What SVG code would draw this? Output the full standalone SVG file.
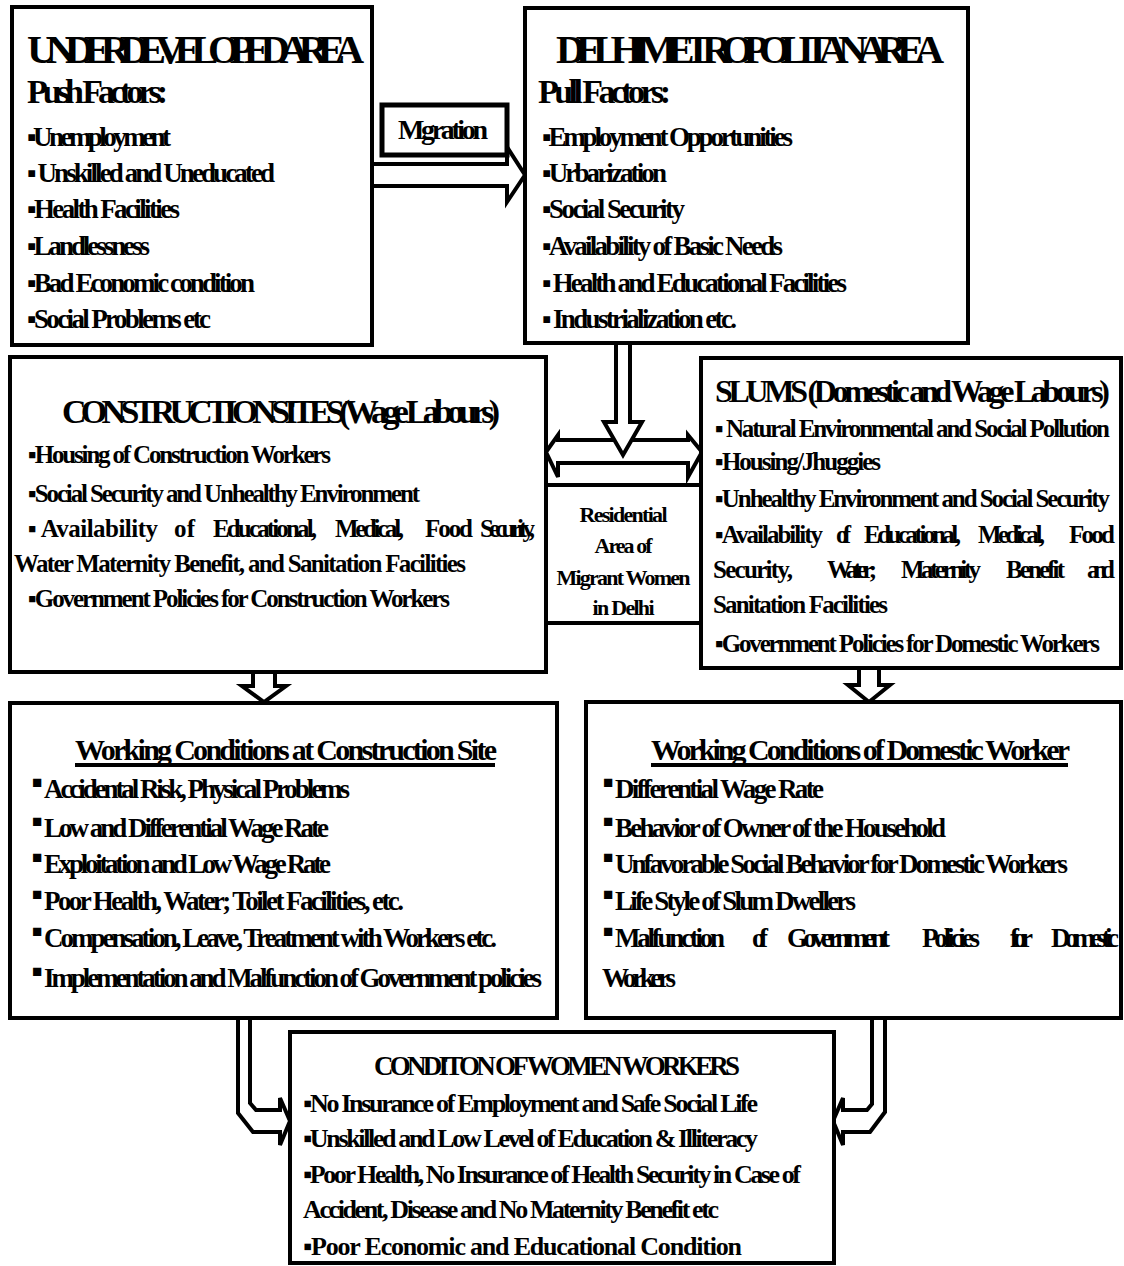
<svg xmlns="http://www.w3.org/2000/svg" width="1124" height="1266" viewBox="0 0 1124 1266">
<style>
.bx{fill:#fff;stroke:#000;stroke-width:4}
.ar{fill:#fff;stroke:#000;stroke-width:4;stroke-linejoin:miter}
text{font-family:"Liberation Serif","Times New Roman",serif;font-weight:bold;fill:#000}
.h1{font-size:41px}
.h2{font-size:34px}
.i1{font-size:27px}
.h3{font-size:34px}
.i2{font-size:25px}
.rs{font-size:22px}
.h4{font-size:30px}
.i3{font-size:27px}
.h5{font-size:27px}
.i4{font-size:26px}
.sb{font-size:17px}
</style>
<g id="connectors">
<polygon class="ar" points="372,164 507,164 507,147 525,175 507,202 507,186 372,186"/>
<polygon class="ar" points="546,452 558,435 558,440 688,440 688,435 702,452 688,477 688,463 558,463 558,477"/>
<polygon class="ar" points="616,343 630,343 630,422 642,422 623,455 604,422 616,422"/>
<polygon class="ar" points="253,672 275,672 275,686 286,686 264,702 242,686 253,686"/>
<polygon class="ar" points="859,668 879,668 879,685 890,685 869,702 848,685 859,685"/>
<polygon class="ar" points="238,1018 238,1113 253,1132 280,1132 280,1145 290,1121 280,1098 280,1110 256,1110 250,1103 250,1018"/>
<polygon class="ar" points="872,1018 872,1104 867,1110 843,1110 843,1098 833,1121 843,1145 843,1132 870,1132 885,1112 885,1018"/>
</g>
<g id="underdeveloped">
<rect class="bx" x="12" y="7" width="360" height="338"/>
<text class="h1" x="27" y="63" textLength="337">UNDERDEVELOPEDAREA</text>
<text class="h2" x="27" y="103" textLength="141">Push Factors:</text>
<text class="i1" x="27" y="146" textLength="144">▪Unemployment</text>
<text class="i1" x="27" y="182" textLength="248">▪ Unskilled and Uneducated</text>
<text class="i1" x="27" y="218" textLength="153">▪Health Facilities</text>
<text class="i1" x="27" y="255" textLength="123">▪Landlessness</text>
<text class="i1" x="27" y="292" textLength="228">▪Bad Economic condition</text>
<text class="i1" x="27" y="328" textLength="184">▪Social Problems etc</text>
</g>
<g id="migration">
<rect x="382" y="105" width="125" height="50" fill="#fff" stroke="#000" stroke-width="5"/>
<text x="398" y="139" textLength="90" style="font-size:28px">Mgration</text>
</g>
<g id="delhi">
<rect class="bx" x="525" y="8" width="443" height="335"/>
<text class="h1" x="556" y="63" textLength="388">DELHIMETROPOLITANAREA</text>
<text class="h2" x="538" y="103" textLength="133">Pull Factors:</text>
<text class="i1" x="542" y="146" textLength="251">▪Employment Opportunities</text>
<text class="i1" x="542" y="182" textLength="125">▪Urbarization</text>
<text class="i1" x="542" y="218" textLength="143">▪Social Security</text>
<text class="i1" x="542" y="255" textLength="241">▪Availability of Basic Needs</text>
<text class="i1" x="542" y="292" textLength="305">▪ Health and Educational Facilities</text>
<text class="i1" x="542" y="328" textLength="195">▪ Industrialization etc.</text>
</g>
<g id="construction">
<rect class="bx" x="10" y="357" width="536" height="315"/>
<text class="h3" x="62" y="423" textLength="438">CONSTRUCTIONSITES(Wage Labours)</text>
<text class="i2" x="28" y="463" textLength="303">▪Housing of Construction Workers</text>
<text class="i2" x="28" y="502" textLength="392">▪Social Security and Unhealthy Environment</text>
<text class="i2" y="537"><tspan x="28" textLength="130">▪ Availability</tspan><tspan x="174" textLength="21">of</tspan><tspan x="213" textLength="104">Educational,</tspan><tspan x="335" textLength="69">Medical,</tspan><tspan x="425" textLength="48">Food</tspan><tspan x="480" textLength="55">Security,</tspan></text>
<text class="i2" x="14" y="572" textLength="452">Water Maternity Benefit, and Sanitation Facilities</text>
<text class="i2" x="28" y="607" textLength="422">▪Government Policies for Construction Workers</text>
</g>
<g id="residential">
<rect class="bx" x="546" y="485" width="155" height="138"/>
<text class="rs" x="623.5" y="522" text-anchor="middle" textLength="88">Residential</text>
<text class="rs" x="623.5" y="553" text-anchor="middle" textLength="58">Area of</text>
<text class="rs" x="623.5" y="585" text-anchor="middle" textLength="134">Migrant Women</text>
<text class="rs" x="623.5" y="615" text-anchor="middle" textLength="62">in Delhi</text>
</g>
<g id="slums">
<rect class="bx" x="701" y="358" width="420" height="310"/>
<text class="h3" x="715" y="402" textLength="395" style="font-size:32px">SLUMS (Domestic and Wage Labours)</text>
<text class="i2" x="715" y="437" textLength="395">▪ Natural Environmental and Social Pollution</text>
<text class="i2" x="715" y="470" textLength="166">▪Housing/Jhuggies</text>
<text class="i2" x="715" y="507" textLength="395">▪Unhealthy Environment and Social Security</text>
<text class="i2" y="543"><tspan x="715" textLength="108">▪Availability</tspan><tspan x="836" textLength="15">of</tspan><tspan x="864" textLength="97">Educational,</tspan><tspan x="978" textLength="67">Medical,</tspan><tspan x="1069" textLength="46">Food</tspan></text>
<text class="i2" y="578"><tspan x="713" textLength="80">Security,</tspan><tspan x="827" textLength="50">Water;</tspan><tspan x="901" textLength="80">Maternity</tspan><tspan x="1006" textLength="59">Benefit</tspan><tspan x="1087" textLength="28">and</tspan></text>
<text class="i2" x="713" y="613" textLength="175">Sanitation Facilities</text>
<text class="i2" x="715" y="652" textLength="385">▪Government Policies for Domestic Workers</text>
</g>
<g id="work-construction">
<rect class="bx" x="10" y="703" width="547" height="315"/>
<text class="h4" x="75" y="760" textLength="422">Working Conditions at Construction Site</text>
<rect x="75" y="763" width="420" height="4" fill="#000"/>
<text class="i3" y="798"><tspan class="sb" x="32" dy="-10">■</tspan><tspan x="44" dy="10" textLength="306">Accidental  Risk, Physical Problems</tspan></text>
<text class="i3" y="837"><tspan class="sb" x="32" dy="-10">■</tspan><tspan x="44" dy="10" textLength="285">Low and Differential Wage Rate</tspan></text>
<text class="i3" y="873"><tspan class="sb" x="32" dy="-10">■</tspan><tspan x="44" dy="10" textLength="287">Exploitation and Low Wage Rate</tspan></text>
<text class="i3" y="910"><tspan class="sb" x="32" dy="-10">■</tspan><tspan x="44" dy="10" textLength="360">Poor Health, Water;  Toilet Facilities,  etc.</tspan></text>
<text class="i3" y="947"><tspan class="sb" x="32" dy="-10">■</tspan><tspan x="44" dy="10" textLength="453">Compensation, Leave, Treatment with Workers etc.</tspan></text>
<text class="i3" y="987"><tspan class="sb" x="32" dy="-10">■</tspan><tspan x="44" dy="10" textLength="498">Implementation and Malfunction of Government policies</tspan></text>
</g>
<g id="work-domestic">
<rect class="bx" x="586" y="702" width="535" height="316"/>
<text class="h4" x="651" y="760" textLength="419">Working Conditions of Domestic Worker</text>
<rect x="651" y="763" width="417" height="4" fill="#000"/>
<text class="i3" y="798"><tspan class="sb" x="603" dy="-10">■</tspan><tspan x="615" dy="10" textLength="209">Differential Wage Rate</tspan></text>
<text class="i3" y="837"><tspan class="sb" x="603" dy="-10">■</tspan><tspan x="615" dy="10" textLength="331">Behavior of Owner of  the Household</tspan></text>
<text class="i3" y="873"><tspan class="sb" x="603" dy="-10">■</tspan><tspan x="615" dy="10" textLength="453">Unfavorable Social Behavior for Domestic Workers</tspan></text>
<text class="i3" y="910"><tspan class="sb" x="603" dy="-10">■</tspan><tspan x="615" dy="10" textLength="241">Life Style of Slum Dwellers</tspan></text>
<text class="i3" y="947"><tspan class="sb" x="603" dy="-10">■</tspan><tspan x="615" dy="10" textLength="110">Malfunction</tspan><tspan x="752" textLength="16">of</tspan><tspan x="787" textLength="103">Government</tspan><tspan x="922" textLength="58">Policies</tspan><tspan x="1010" textLength="23">for</tspan><tspan x="1051" textLength="68">Domestic</tspan></text>
<text class="i3" x="602" y="987" textLength="74">Workers</text>
</g>
<g id="women">
<rect class="bx" x="290" y="1032" width="544" height="231"/>
<text class="h5" x="374" y="1075" textLength="366">CONDITON OF WOMEN WORKERS</text>
<text class="i4" x="303" y="1112" textLength="455">▪No Insurance of  Employment and Safe Social Life</text>
<text class="i4" x="303" y="1147" textLength="455">▪Unskilled and Low Level  of Education &amp; Illiteracy</text>
<text class="i4" x="303" y="1183" textLength="498">▪Poor Health,  No Insurance of Health Security in Case of</text>
<text class="i4" x="303" y="1218" textLength="416">Accident, Disease and No Maternity Benefit etc</text>
<text class="i4" x="303" y="1255" textLength="439">▪Poor Economic and Educational Condition</text>
</g>
</svg>
